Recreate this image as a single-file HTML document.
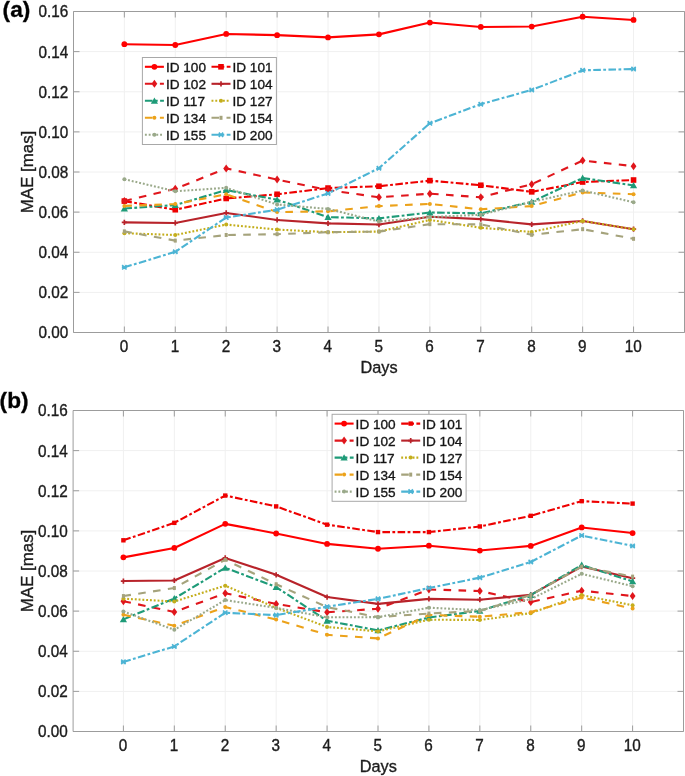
<!DOCTYPE html>
<html><head><meta charset="utf-8"><title>MAE</title>
<style>
html,body{margin:0;padding:0;background:#fff;}
body{width:685px;height:776px;overflow:hidden;}
svg{display:block;will-change:transform;}
text{font-family:'Liberation Sans', sans-serif;fill:#1c1c1c;stroke:#1c1c1c;stroke-width:0.35px;}
.tk{font-size:15.3px;}
.lb{font-size:16.3px;}
.lg{font-size:13.6px;fill:#111;}
.pl{font-size:22px;font-weight:bold;fill:#000;}
</style></head>
<body>
<svg width="685" height="776" viewBox="0 0 685 776">
<rect width="685" height="776" fill="#fff"/>
<path d="M124.35 11.50V332.50M175.27 11.50V332.50M226.19 11.50V332.50M277.11 11.50V332.50M328.03 11.50V332.50M378.95 11.50V332.50M429.87 11.50V332.50M480.79 11.50V332.50M531.71 11.50V332.50M582.63 11.50V332.50M633.55 11.50V332.50M73.50 292.38H684.50M73.50 252.25H684.50M73.50 212.12H684.50M73.50 172.00H684.50M73.50 131.88H684.50M73.50 91.75H684.50M73.50 51.62H684.50" stroke="#f0f0f0" stroke-width="1" fill="none"/>
<path d="M73.50 11.50H684.50V332.50H73.50ZM124.35 332.50v-6M124.35 11.50v6M175.27 332.50v-6M175.27 11.50v6M226.19 332.50v-6M226.19 11.50v6M277.11 332.50v-6M277.11 11.50v6M328.03 332.50v-6M328.03 11.50v6M378.95 332.50v-6M378.95 11.50v6M429.87 332.50v-6M429.87 11.50v6M480.79 332.50v-6M480.79 11.50v6M531.71 332.50v-6M531.71 11.50v6M582.63 332.50v-6M582.63 11.50v6M633.55 332.50v-6M633.55 11.50v6M73.50 332.50h6M684.50 332.50h-6M73.50 292.38h6M684.50 292.38h-6M73.50 252.25h6M684.50 252.25h-6M73.50 212.12h6M684.50 212.12h-6M73.50 172.00h6M684.50 172.00h-6M73.50 131.88h6M684.50 131.88h-6M73.50 91.75h6M684.50 91.75h-6M73.50 51.62h6M684.50 51.62h-6M73.50 11.50h6M684.50 11.50h-6" stroke="#9c9c9c" stroke-width="1" fill="none"/>
<polyline points="124.35,44.20 175.27,45.00 226.19,33.97 277.11,35.17 328.03,37.38 378.95,34.37 429.87,22.53 480.79,26.95 531.71,26.55 582.63,16.72 633.55,19.93" stroke="#ff0000" stroke-width="2.1" fill="none" stroke-linejoin="round"/>
<circle cx="124.35" cy="44.20" r="2.9" fill="#ff0000"/>
<circle cx="175.27" cy="45.00" r="2.9" fill="#ff0000"/>
<circle cx="226.19" cy="33.97" r="2.9" fill="#ff0000"/>
<circle cx="277.11" cy="35.17" r="2.9" fill="#ff0000"/>
<circle cx="328.03" cy="37.38" r="2.9" fill="#ff0000"/>
<circle cx="378.95" cy="34.37" r="2.9" fill="#ff0000"/>
<circle cx="429.87" cy="22.53" r="2.9" fill="#ff0000"/>
<circle cx="480.79" cy="26.95" r="2.9" fill="#ff0000"/>
<circle cx="531.71" cy="26.55" r="2.9" fill="#ff0000"/>
<circle cx="582.63" cy="16.72" r="2.9" fill="#ff0000"/>
<circle cx="633.55" cy="19.93" r="2.9" fill="#ff0000"/>
<polyline points="124.35,201.09 175.27,209.72 226.19,198.48 277.11,194.27 328.03,188.05 378.95,186.24 429.87,180.63 480.79,185.24 531.71,191.86 582.63,182.03 633.55,180.03" stroke="#ee0000" stroke-width="2.1" fill="none" stroke-linejoin="round" stroke-dasharray="7.6 2.4 2.8 2.4"/>
<rect x="121.55" y="198.29" width="5.60" height="5.60" fill="#ee0000"/>
<rect x="172.47" y="206.92" width="5.60" height="5.60" fill="#ee0000"/>
<rect x="223.39" y="195.68" width="5.60" height="5.60" fill="#ee0000"/>
<rect x="274.31" y="191.47" width="5.60" height="5.60" fill="#ee0000"/>
<rect x="325.23" y="185.25" width="5.60" height="5.60" fill="#ee0000"/>
<rect x="376.15" y="183.44" width="5.60" height="5.60" fill="#ee0000"/>
<rect x="427.07" y="177.83" width="5.60" height="5.60" fill="#ee0000"/>
<rect x="477.99" y="182.44" width="5.60" height="5.60" fill="#ee0000"/>
<rect x="528.91" y="189.06" width="5.60" height="5.60" fill="#ee0000"/>
<rect x="579.83" y="179.23" width="5.60" height="5.60" fill="#ee0000"/>
<rect x="630.75" y="177.22" width="5.60" height="5.60" fill="#ee0000"/>
<polyline points="124.35,201.09 175.27,188.85 226.19,168.39 277.11,179.62 328.03,190.06 378.95,197.28 429.87,193.67 480.79,197.28 531.71,184.24 582.63,160.56 633.55,166.18" stroke="#e0161c" stroke-width="2.1" fill="none" stroke-linejoin="round" stroke-dasharray="7.6 7.4"/>
<path d="M124.35 197.09L127.25 201.09L124.35 205.09L121.45 201.09Z" fill="#e0161c"/>
<path d="M175.27 184.85L178.17 188.85L175.27 192.85L172.37 188.85Z" fill="#e0161c"/>
<path d="M226.19 164.39L229.09 168.39L226.19 172.39L223.29 168.39Z" fill="#e0161c"/>
<path d="M277.11 175.62L280.01 179.62L277.11 183.62L274.21 179.62Z" fill="#e0161c"/>
<path d="M328.03 186.06L330.93 190.06L328.03 194.06L325.13 190.06Z" fill="#e0161c"/>
<path d="M378.95 193.28L381.85 197.28L378.95 201.28L376.05 197.28Z" fill="#e0161c"/>
<path d="M429.87 189.67L432.77 193.67L429.87 197.67L426.97 193.67Z" fill="#e0161c"/>
<path d="M480.79 193.28L483.69 197.28L480.79 201.28L477.89 197.28Z" fill="#e0161c"/>
<path d="M531.71 180.24L534.61 184.24L531.71 188.24L528.81 184.24Z" fill="#e0161c"/>
<path d="M582.63 156.56L585.53 160.56L582.63 164.56L579.73 160.56Z" fill="#e0161c"/>
<path d="M633.55 162.18L636.45 166.18L633.55 170.18L630.65 166.18Z" fill="#e0161c"/>
<polyline points="124.35,222.36 175.27,222.96 226.19,212.93 277.11,219.95 328.03,223.36 378.95,224.56 429.87,216.74 480.79,219.15 531.71,224.36 582.63,220.95 633.55,229.18" stroke="#b8232a" stroke-width="2.1" fill="none" stroke-linejoin="round"/>
<path d="M121.75 222.36H126.95M124.35 219.76V224.96" stroke="#b8232a" stroke-width="1.7" fill="none"/>
<path d="M172.67 222.96H177.87M175.27 220.36V225.56" stroke="#b8232a" stroke-width="1.7" fill="none"/>
<path d="M223.59 212.93H228.79M226.19 210.33V215.53" stroke="#b8232a" stroke-width="1.7" fill="none"/>
<path d="M274.51 219.95H279.71M277.11 217.35V222.55" stroke="#b8232a" stroke-width="1.7" fill="none"/>
<path d="M325.43 223.36H330.63M328.03 220.76V225.96" stroke="#b8232a" stroke-width="1.7" fill="none"/>
<path d="M376.35 224.56H381.55M378.95 221.96V227.16" stroke="#b8232a" stroke-width="1.7" fill="none"/>
<path d="M427.27 216.74H432.47M429.87 214.14V219.34" stroke="#b8232a" stroke-width="1.7" fill="none"/>
<path d="M478.19 219.15H483.39M480.79 216.55V221.75" stroke="#b8232a" stroke-width="1.7" fill="none"/>
<path d="M529.11 224.36H534.31M531.71 221.76V226.96" stroke="#b8232a" stroke-width="1.7" fill="none"/>
<path d="M580.03 220.95H585.23M582.63 218.35V223.55" stroke="#b8232a" stroke-width="1.7" fill="none"/>
<path d="M630.95 229.18H636.15M633.55 226.58V231.78" stroke="#b8232a" stroke-width="1.7" fill="none"/>
<polyline points="124.35,208.51 175.27,205.10 226.19,190.06 277.11,199.69 328.03,217.14 378.95,218.34 429.87,212.53 480.79,213.33 531.71,201.89 582.63,178.02 633.55,185.44" stroke="#1e9b78" stroke-width="2.1" fill="none" stroke-linejoin="round" stroke-dasharray="7.6 2.4 2.8 2.4"/>
<path d="M124.35 205.11L127.95 211.40L120.75 211.40Z" fill="#1e9b78"/>
<path d="M175.27 201.70L178.87 207.99L171.67 207.99Z" fill="#1e9b78"/>
<path d="M226.19 186.66L229.79 192.95L222.59 192.95Z" fill="#1e9b78"/>
<path d="M277.11 196.29L280.71 202.58L273.51 202.58Z" fill="#1e9b78"/>
<path d="M328.03 213.74L331.63 220.03L324.43 220.03Z" fill="#1e9b78"/>
<path d="M378.95 214.94L382.55 221.23L375.35 221.23Z" fill="#1e9b78"/>
<path d="M429.87 209.13L433.47 215.42L426.27 215.42Z" fill="#1e9b78"/>
<path d="M480.79 209.93L484.39 216.22L477.19 216.22Z" fill="#1e9b78"/>
<path d="M531.71 198.49L535.31 204.78L528.11 204.78Z" fill="#1e9b78"/>
<path d="M582.63 174.62L586.23 180.91L579.03 180.91Z" fill="#1e9b78"/>
<path d="M633.55 182.04L637.15 188.33L629.95 188.33Z" fill="#1e9b78"/>
<polyline points="124.35,233.19 175.27,235.00 226.19,224.56 277.11,229.58 328.03,232.19 378.95,231.59 429.87,219.95 480.79,227.77 531.71,231.99 582.63,220.95 633.55,229.18" stroke="#c4ae1c" stroke-width="2.1" fill="none" stroke-linejoin="round" stroke-dasharray="1.9 1.9"/>
<circle cx="124.35" cy="233.19" r="2.0" fill="#c4ae1c"/>
<circle cx="175.27" cy="235.00" r="2.0" fill="#c4ae1c"/>
<circle cx="226.19" cy="224.56" r="2.0" fill="#c4ae1c"/>
<circle cx="277.11" cy="229.58" r="2.0" fill="#c4ae1c"/>
<circle cx="328.03" cy="232.19" r="2.0" fill="#c4ae1c"/>
<circle cx="378.95" cy="231.59" r="2.0" fill="#c4ae1c"/>
<circle cx="429.87" cy="219.95" r="2.0" fill="#c4ae1c"/>
<circle cx="480.79" cy="227.77" r="2.0" fill="#c4ae1c"/>
<circle cx="531.71" cy="231.99" r="2.0" fill="#c4ae1c"/>
<circle cx="582.63" cy="220.95" r="2.0" fill="#c4ae1c"/>
<circle cx="633.55" cy="229.18" r="2.0" fill="#c4ae1c"/>
<polyline points="124.35,205.91 175.27,204.10 226.19,194.27 277.11,212.12 328.03,211.32 378.95,206.11 429.87,203.90 480.79,209.32 531.71,206.11 582.63,192.46 633.55,194.27" stroke="#eca21a" stroke-width="2.1" fill="none" stroke-linejoin="round" stroke-dasharray="7.6 7.4"/>
<circle cx="124.35" cy="205.91" r="2.0" fill="#eca21a"/>
<circle cx="175.27" cy="204.10" r="2.0" fill="#eca21a"/>
<circle cx="226.19" cy="194.27" r="2.0" fill="#eca21a"/>
<circle cx="277.11" cy="212.12" r="2.0" fill="#eca21a"/>
<circle cx="328.03" cy="211.32" r="2.0" fill="#eca21a"/>
<circle cx="378.95" cy="206.11" r="2.0" fill="#eca21a"/>
<circle cx="429.87" cy="203.90" r="2.0" fill="#eca21a"/>
<circle cx="480.79" cy="209.32" r="2.0" fill="#eca21a"/>
<circle cx="531.71" cy="206.11" r="2.0" fill="#eca21a"/>
<circle cx="582.63" cy="192.46" r="2.0" fill="#eca21a"/>
<circle cx="633.55" cy="194.27" r="2.0" fill="#eca21a"/>
<polyline points="124.35,231.38 175.27,240.61 226.19,235.00 277.11,234.19 328.03,232.19 378.95,231.59 429.87,224.16 480.79,224.36 531.71,234.80 582.63,229.18 633.55,238.81" stroke="#a5a37c" stroke-width="2.1" fill="none" stroke-linejoin="round" stroke-dasharray="7.6 7.4"/>
<rect x="122.85" y="229.38" width="3.0" height="4.0" fill="#a5a37c"/>
<rect x="173.77" y="238.61" width="3.0" height="4.0" fill="#a5a37c"/>
<rect x="224.69" y="233.00" width="3.0" height="4.0" fill="#a5a37c"/>
<rect x="275.61" y="232.19" width="3.0" height="4.0" fill="#a5a37c"/>
<rect x="326.53" y="230.19" width="3.0" height="4.0" fill="#a5a37c"/>
<rect x="377.45" y="229.59" width="3.0" height="4.0" fill="#a5a37c"/>
<rect x="428.37" y="222.16" width="3.0" height="4.0" fill="#a5a37c"/>
<rect x="479.29" y="222.36" width="3.0" height="4.0" fill="#a5a37c"/>
<rect x="530.21" y="232.80" width="3.0" height="4.0" fill="#a5a37c"/>
<rect x="581.13" y="227.18" width="3.0" height="4.0" fill="#a5a37c"/>
<rect x="632.05" y="236.81" width="3.0" height="4.0" fill="#a5a37c"/>
<polyline points="124.35,179.22 175.27,191.26 226.19,187.85 277.11,204.50 328.03,208.91 378.95,221.55 429.87,217.14 480.79,214.73 531.71,201.89 582.63,190.46 633.55,202.29" stroke="#9aa98a" stroke-width="2.1" fill="none" stroke-linejoin="round" stroke-dasharray="1.9 1.9"/>
<circle cx="124.35" cy="179.22" r="2.0" fill="#9aa98a"/>
<circle cx="175.27" cy="191.26" r="2.0" fill="#9aa98a"/>
<circle cx="226.19" cy="187.85" r="2.0" fill="#9aa98a"/>
<circle cx="277.11" cy="204.50" r="2.0" fill="#9aa98a"/>
<circle cx="328.03" cy="208.91" r="2.0" fill="#9aa98a"/>
<circle cx="378.95" cy="221.55" r="2.0" fill="#9aa98a"/>
<circle cx="429.87" cy="217.14" r="2.0" fill="#9aa98a"/>
<circle cx="480.79" cy="214.73" r="2.0" fill="#9aa98a"/>
<circle cx="531.71" cy="201.89" r="2.0" fill="#9aa98a"/>
<circle cx="582.63" cy="190.46" r="2.0" fill="#9aa98a"/>
<circle cx="633.55" cy="202.29" r="2.0" fill="#9aa98a"/>
<polyline points="124.35,267.30 175.27,251.85 226.19,217.54 277.11,209.72 328.03,193.47 378.95,168.19 429.87,123.25 480.79,104.19 531.71,89.94 582.63,70.28 633.55,69.08" stroke="#4cb4d4" stroke-width="2.1" fill="none" stroke-linejoin="round" stroke-dasharray="7.6 2.4 2.8 2.4"/>
<path d="M122.15 265.10L126.55 269.50M122.15 269.50L126.55 265.10M121.85 267.30H126.85" stroke="#4cb4d4" stroke-width="1.6" fill="none"/>
<path d="M173.07 249.65L177.47 254.05M173.07 254.05L177.47 249.65M172.77 251.85H177.77" stroke="#4cb4d4" stroke-width="1.6" fill="none"/>
<path d="M223.99 215.34L228.39 219.74M223.99 219.74L228.39 215.34M223.69 217.54H228.69" stroke="#4cb4d4" stroke-width="1.6" fill="none"/>
<path d="M274.91 207.52L279.31 211.92M274.91 211.92L279.31 207.52M274.61 209.72H279.61" stroke="#4cb4d4" stroke-width="1.6" fill="none"/>
<path d="M325.83 191.27L330.23 195.67M325.83 195.67L330.23 191.27M325.53 193.47H330.53" stroke="#4cb4d4" stroke-width="1.6" fill="none"/>
<path d="M376.75 165.99L381.15 170.39M376.75 170.39L381.15 165.99M376.45 168.19H381.45" stroke="#4cb4d4" stroke-width="1.6" fill="none"/>
<path d="M427.67 121.05L432.07 125.45M427.67 125.45L432.07 121.05M427.37 123.25H432.37" stroke="#4cb4d4" stroke-width="1.6" fill="none"/>
<path d="M478.59 101.99L482.99 106.39M478.59 106.39L482.99 101.99M478.29 104.19H483.29" stroke="#4cb4d4" stroke-width="1.6" fill="none"/>
<path d="M529.51 87.74L533.91 92.14M529.51 92.14L533.91 87.74M529.21 89.94H534.21" stroke="#4cb4d4" stroke-width="1.6" fill="none"/>
<path d="M580.43 68.08L584.83 72.48M580.43 72.48L584.83 68.08M580.13 70.28H585.13" stroke="#4cb4d4" stroke-width="1.6" fill="none"/>
<path d="M631.35 66.88L635.75 71.28M631.35 71.28L635.75 66.88M631.05 69.08H636.05" stroke="#4cb4d4" stroke-width="1.6" fill="none"/>
<text transform="translate(124.05 351.90) scale(1 1.04)" text-anchor="middle" class="tk">0</text>
<text transform="translate(174.97 351.90) scale(1 1.04)" text-anchor="middle" class="tk">1</text>
<text transform="translate(225.89 351.90) scale(1 1.04)" text-anchor="middle" class="tk">2</text>
<text transform="translate(276.81 351.90) scale(1 1.04)" text-anchor="middle" class="tk">3</text>
<text transform="translate(327.73 351.90) scale(1 1.04)" text-anchor="middle" class="tk">4</text>
<text transform="translate(378.65 351.90) scale(1 1.04)" text-anchor="middle" class="tk">5</text>
<text transform="translate(429.57 351.90) scale(1 1.04)" text-anchor="middle" class="tk">6</text>
<text transform="translate(480.49 351.90) scale(1 1.04)" text-anchor="middle" class="tk">7</text>
<text transform="translate(531.41 351.90) scale(1 1.04)" text-anchor="middle" class="tk">8</text>
<text transform="translate(582.33 351.90) scale(1 1.04)" text-anchor="middle" class="tk">9</text>
<text transform="translate(633.25 351.90) scale(1 1.04)" text-anchor="middle" class="tk">10</text>
<text transform="translate(68.20 338.40) scale(1 1.04)" text-anchor="end" class="tk">0.00</text>
<text transform="translate(68.20 298.27) scale(1 1.04)" text-anchor="end" class="tk">0.02</text>
<text transform="translate(68.20 258.15) scale(1 1.04)" text-anchor="end" class="tk">0.04</text>
<text transform="translate(68.20 218.03) scale(1 1.04)" text-anchor="end" class="tk">0.06</text>
<text transform="translate(68.20 177.90) scale(1 1.04)" text-anchor="end" class="tk">0.08</text>
<text transform="translate(68.20 137.78) scale(1 1.04)" text-anchor="end" class="tk">0.10</text>
<text transform="translate(68.20 97.65) scale(1 1.04)" text-anchor="end" class="tk">0.12</text>
<text transform="translate(68.20 57.52) scale(1 1.04)" text-anchor="end" class="tk">0.14</text>
<text transform="translate(68.20 17.40) scale(1 1.04)" text-anchor="end" class="tk">0.16</text>
<text x="379.00" y="372.60" text-anchor="middle" class="lb">Days</text>
<text transform="translate(33.2 172.00) rotate(-90)" text-anchor="middle" class="lb" style="font-size:16.9px">MAE [mas]</text>
<text transform="translate(2.60 16.50) scale(1.03 1)" class="pl">(a)</text>
<rect x="142.40" y="57.50" width="134.00" height="87.00" fill="#fff" stroke="#a8a8a8" stroke-width="1"/>
<path d="M144.90 66.80H163.90" stroke="#ff0000" stroke-width="2.1" fill="none"/>
<circle cx="154.40" cy="66.80" r="2.9" fill="#ff0000"/>
<text transform="translate(165.90 71.90) scale(1 1.0)" class="lg">ID 100</text>
<path d="M211.50 66.80H230.50" stroke="#ee0000" stroke-width="2.1" fill="none" stroke-dasharray="7.6 2.4 2.8 2.4"/>
<rect x="218.20" y="64.00" width="5.60" height="5.60" fill="#ee0000"/>
<text transform="translate(232.50 71.90) scale(1 1.0)" class="lg">ID 101</text>
<path d="M144.90 83.80H163.90" stroke="#e0161c" stroke-width="2.1" fill="none" stroke-dasharray="7.6 7.4"/>
<path d="M154.40 79.80L157.30 83.80L154.40 87.80L151.50 83.80Z" fill="#e0161c"/>
<text transform="translate(165.90 88.90) scale(1 1.0)" class="lg">ID 102</text>
<path d="M211.50 83.80H230.50" stroke="#b8232a" stroke-width="2.1" fill="none"/>
<path d="M218.40 83.80H223.60M221.00 81.20V86.40" stroke="#b8232a" stroke-width="1.7" fill="none"/>
<text transform="translate(232.50 88.90) scale(1 1.0)" class="lg">ID 104</text>
<path d="M144.90 100.80H163.90" stroke="#1e9b78" stroke-width="2.1" fill="none" stroke-dasharray="7.6 2.4 2.8 2.4"/>
<path d="M154.40 97.40L158.00 103.69L150.80 103.69Z" fill="#1e9b78"/>
<text transform="translate(165.90 105.90) scale(1 1.0)" class="lg">ID 117</text>
<path d="M211.50 100.80H230.50" stroke="#c4ae1c" stroke-width="2.1" fill="none" stroke-dasharray="1.9 1.9"/>
<circle cx="221.00" cy="100.80" r="2.0" fill="#c4ae1c"/>
<text transform="translate(232.50 105.90) scale(1 1.0)" class="lg">ID 127</text>
<path d="M144.90 117.80H163.90" stroke="#eca21a" stroke-width="2.1" fill="none" stroke-dasharray="7.6 7.4"/>
<circle cx="154.40" cy="117.80" r="2.0" fill="#eca21a"/>
<text transform="translate(165.90 122.90) scale(1 1.0)" class="lg">ID 134</text>
<path d="M211.50 117.80H230.50" stroke="#a5a37c" stroke-width="2.1" fill="none" stroke-dasharray="7.6 7.4"/>
<rect x="219.50" y="115.80" width="3.0" height="4.0" fill="#a5a37c"/>
<text transform="translate(232.50 122.90) scale(1 1.0)" class="lg">ID 154</text>
<path d="M144.90 134.80H163.90" stroke="#9aa98a" stroke-width="2.1" fill="none" stroke-dasharray="1.9 1.9"/>
<circle cx="154.40" cy="134.80" r="2.0" fill="#9aa98a"/>
<text transform="translate(165.90 139.90) scale(1 1.0)" class="lg">ID 155</text>
<path d="M211.50 134.80H230.50" stroke="#4cb4d4" stroke-width="2.1" fill="none" stroke-dasharray="7.6 2.4 2.8 2.4"/>
<path d="M218.80 132.60L223.20 137.00M218.80 137.00L223.20 132.60M218.50 134.80H223.50" stroke="#4cb4d4" stroke-width="1.6" fill="none"/>
<text transform="translate(232.50 139.90) scale(1 1.0)" class="lg">ID 200</text>
<path d="M123.40 410.50V731.50M174.32 410.50V731.50M225.24 410.50V731.50M276.16 410.50V731.50M327.08 410.50V731.50M378.00 410.50V731.50M428.92 410.50V731.50M479.84 410.50V731.50M530.76 410.50V731.50M581.68 410.50V731.50M632.60 410.50V731.50M73.10 691.38H683.50M73.10 651.25H683.50M73.10 611.12H683.50M73.10 571.00H683.50M73.10 530.88H683.50M73.10 490.75H683.50M73.10 450.62H683.50" stroke="#f0f0f0" stroke-width="1" fill="none"/>
<path d="M73.10 410.50H683.50V731.50H73.10ZM123.40 731.50v-6M123.40 410.50v6M174.32 731.50v-6M174.32 410.50v6M225.24 731.50v-6M225.24 410.50v6M276.16 731.50v-6M276.16 410.50v6M327.08 731.50v-6M327.08 410.50v6M378.00 731.50v-6M378.00 410.50v6M428.92 731.50v-6M428.92 410.50v6M479.84 731.50v-6M479.84 410.50v6M530.76 731.50v-6M530.76 410.50v6M581.68 731.50v-6M581.68 410.50v6M632.60 731.50v-6M632.60 410.50v6M73.10 731.50h6M683.50 731.50h-6M73.10 691.38h6M683.50 691.38h-6M73.10 651.25h6M683.50 651.25h-6M73.10 611.12h6M683.50 611.12h-6M73.10 571.00h6M683.50 571.00h-6M73.10 530.88h6M683.50 530.88h-6M73.10 490.75h6M683.50 490.75h-6M73.10 450.62h6M683.50 450.62h-6M73.10 410.50h6M683.50 410.50h-6" stroke="#9c9c9c" stroke-width="1" fill="none"/>
<polyline points="123.40,557.36 174.32,547.93 225.24,523.85 276.16,533.48 327.08,543.92 378.00,548.73 428.92,545.72 479.84,550.54 530.76,545.92 581.68,527.46 632.60,533.08" stroke="#ff0000" stroke-width="2.1" fill="none" stroke-linejoin="round"/>
<circle cx="123.40" cy="557.36" r="2.9" fill="#ff0000"/>
<circle cx="174.32" cy="547.93" r="2.9" fill="#ff0000"/>
<circle cx="225.24" cy="523.85" r="2.9" fill="#ff0000"/>
<circle cx="276.16" cy="533.48" r="2.9" fill="#ff0000"/>
<circle cx="327.08" cy="543.92" r="2.9" fill="#ff0000"/>
<circle cx="378.00" cy="548.73" r="2.9" fill="#ff0000"/>
<circle cx="428.92" cy="545.72" r="2.9" fill="#ff0000"/>
<circle cx="479.84" cy="550.54" r="2.9" fill="#ff0000"/>
<circle cx="530.76" cy="545.92" r="2.9" fill="#ff0000"/>
<circle cx="581.68" cy="527.46" r="2.9" fill="#ff0000"/>
<circle cx="632.60" cy="533.08" r="2.9" fill="#ff0000"/>
<polyline points="123.40,540.30 174.32,522.85 225.24,495.56 276.16,506.40 327.08,524.66 378.00,532.08 428.92,532.08 479.84,526.46 530.76,515.83 581.68,501.18 632.60,503.59" stroke="#ee0000" stroke-width="2.1" fill="none" stroke-linejoin="round" stroke-dasharray="7.6 2.4 2.8 2.4"/>
<rect x="121.20" y="538.10" width="4.40" height="4.40" fill="#ee0000"/>
<rect x="172.12" y="520.65" width="4.40" height="4.40" fill="#ee0000"/>
<rect x="223.04" y="493.37" width="4.40" height="4.40" fill="#ee0000"/>
<rect x="273.96" y="504.20" width="4.40" height="4.40" fill="#ee0000"/>
<rect x="324.88" y="522.46" width="4.40" height="4.40" fill="#ee0000"/>
<rect x="375.80" y="529.88" width="4.40" height="4.40" fill="#ee0000"/>
<rect x="426.72" y="529.88" width="4.40" height="4.40" fill="#ee0000"/>
<rect x="477.64" y="524.26" width="4.40" height="4.40" fill="#ee0000"/>
<rect x="528.56" y="513.63" width="4.40" height="4.40" fill="#ee0000"/>
<rect x="579.48" y="498.98" width="4.40" height="4.40" fill="#ee0000"/>
<rect x="630.40" y="501.39" width="4.40" height="4.40" fill="#ee0000"/>
<polyline points="123.40,601.29 174.32,611.93 225.24,593.27 276.16,603.90 327.08,612.33 378.00,608.72 428.92,589.46 479.84,591.06 530.76,602.10 581.68,590.66 632.60,596.08" stroke="#e0161c" stroke-width="2.1" fill="none" stroke-linejoin="round" stroke-dasharray="7.6 7.4"/>
<path d="M123.40 597.29L126.30 601.29L123.40 605.29L120.50 601.29Z" fill="#e0161c"/>
<path d="M174.32 607.93L177.22 611.93L174.32 615.93L171.42 611.93Z" fill="#e0161c"/>
<path d="M225.24 589.27L228.14 593.27L225.24 597.27L222.34 593.27Z" fill="#e0161c"/>
<path d="M276.16 599.90L279.06 603.90L276.16 607.90L273.26 603.90Z" fill="#e0161c"/>
<path d="M327.08 608.33L329.98 612.33L327.08 616.33L324.18 612.33Z" fill="#e0161c"/>
<path d="M378.00 604.72L380.90 608.72L378.00 612.72L375.10 608.72Z" fill="#e0161c"/>
<path d="M428.92 585.46L431.82 589.46L428.92 593.46L426.02 589.46Z" fill="#e0161c"/>
<path d="M479.84 587.06L482.74 591.06L479.84 595.06L476.94 591.06Z" fill="#e0161c"/>
<path d="M530.76 598.10L533.66 602.10L530.76 606.10L527.86 602.10Z" fill="#e0161c"/>
<path d="M581.68 586.66L584.58 590.66L581.68 594.66L578.78 590.66Z" fill="#e0161c"/>
<path d="M632.60 592.08L635.50 596.08L632.60 600.08L629.70 596.08Z" fill="#e0161c"/>
<polyline points="123.40,581.03 174.32,580.43 225.24,557.96 276.16,574.81 327.08,597.08 378.00,603.90 428.92,598.89 479.84,599.69 530.76,594.87 581.68,566.59 632.60,578.22" stroke="#b8232a" stroke-width="2.1" fill="none" stroke-linejoin="round"/>
<path d="M120.80 581.03H126.00M123.40 578.43V583.63" stroke="#b8232a" stroke-width="1.7" fill="none"/>
<path d="M171.72 580.43H176.92M174.32 577.83V583.03" stroke="#b8232a" stroke-width="1.7" fill="none"/>
<path d="M222.64 557.96H227.84M225.24 555.36V560.56" stroke="#b8232a" stroke-width="1.7" fill="none"/>
<path d="M273.56 574.81H278.76M276.16 572.21V577.41" stroke="#b8232a" stroke-width="1.7" fill="none"/>
<path d="M324.48 597.08H329.68M327.08 594.48V599.68" stroke="#b8232a" stroke-width="1.7" fill="none"/>
<path d="M375.40 603.90H380.60M378.00 601.30V606.50" stroke="#b8232a" stroke-width="1.7" fill="none"/>
<path d="M426.32 598.89H431.52M428.92 596.29V601.49" stroke="#b8232a" stroke-width="1.7" fill="none"/>
<path d="M477.24 599.69H482.44M479.84 597.09V602.29" stroke="#b8232a" stroke-width="1.7" fill="none"/>
<path d="M528.16 594.87H533.36M530.76 592.27V597.47" stroke="#b8232a" stroke-width="1.7" fill="none"/>
<path d="M579.08 566.59H584.28M581.68 563.99V569.19" stroke="#b8232a" stroke-width="1.7" fill="none"/>
<path d="M630.00 578.22H635.20M632.60 575.62V580.82" stroke="#b8232a" stroke-width="1.7" fill="none"/>
<polyline points="123.40,619.35 174.32,598.49 225.24,567.79 276.16,587.05 327.08,620.75 378.00,630.38 428.92,617.54 479.84,610.92 530.76,595.08 581.68,564.98 632.60,581.43" stroke="#1e9b78" stroke-width="2.1" fill="none" stroke-linejoin="round" stroke-dasharray="7.6 2.4 2.8 2.4"/>
<path d="M123.40 615.95L127.00 622.24L119.80 622.24Z" fill="#1e9b78"/>
<path d="M174.32 595.09L177.92 601.38L170.72 601.38Z" fill="#1e9b78"/>
<path d="M225.24 564.39L228.84 570.68L221.64 570.68Z" fill="#1e9b78"/>
<path d="M276.16 583.65L279.76 589.94L272.56 589.94Z" fill="#1e9b78"/>
<path d="M327.08 617.36L330.68 623.64L323.48 623.64Z" fill="#1e9b78"/>
<path d="M378.00 626.99L381.60 633.27L374.40 633.27Z" fill="#1e9b78"/>
<path d="M428.92 614.14L432.52 620.43L425.32 620.43Z" fill="#1e9b78"/>
<path d="M479.84 607.52L483.44 613.81L476.24 613.81Z" fill="#1e9b78"/>
<path d="M530.76 591.68L534.36 597.97L527.16 597.97Z" fill="#1e9b78"/>
<path d="M581.68 561.58L585.28 567.87L578.08 567.87Z" fill="#1e9b78"/>
<path d="M632.60 578.03L636.20 584.32L629.00 584.32Z" fill="#1e9b78"/>
<polyline points="123.40,598.69 174.32,601.50 225.24,585.65 276.16,607.91 327.08,626.97 378.00,631.39 428.92,619.75 479.84,619.95 530.76,613.13 581.68,595.08 632.60,605.31" stroke="#c4ae1c" stroke-width="2.1" fill="none" stroke-linejoin="round" stroke-dasharray="1.9 1.9"/>
<circle cx="123.40" cy="598.69" r="2.0" fill="#c4ae1c"/>
<circle cx="174.32" cy="601.50" r="2.0" fill="#c4ae1c"/>
<circle cx="225.24" cy="585.65" r="2.0" fill="#c4ae1c"/>
<circle cx="276.16" cy="607.91" r="2.0" fill="#c4ae1c"/>
<circle cx="327.08" cy="626.97" r="2.0" fill="#c4ae1c"/>
<circle cx="378.00" cy="631.39" r="2.0" fill="#c4ae1c"/>
<circle cx="428.92" cy="619.75" r="2.0" fill="#c4ae1c"/>
<circle cx="479.84" cy="619.95" r="2.0" fill="#c4ae1c"/>
<circle cx="530.76" cy="613.13" r="2.0" fill="#c4ae1c"/>
<circle cx="581.68" cy="595.08" r="2.0" fill="#c4ae1c"/>
<circle cx="632.60" cy="605.31" r="2.0" fill="#c4ae1c"/>
<polyline points="123.40,614.74 174.32,625.77 225.24,606.91 276.16,619.55 327.08,634.80 378.00,638.41 428.92,614.94 479.84,616.74 530.76,612.13 581.68,597.48 632.60,608.52" stroke="#eca21a" stroke-width="2.1" fill="none" stroke-linejoin="round" stroke-dasharray="7.6 7.4"/>
<circle cx="123.40" cy="614.74" r="2.0" fill="#eca21a"/>
<circle cx="174.32" cy="625.77" r="2.0" fill="#eca21a"/>
<circle cx="225.24" cy="606.91" r="2.0" fill="#eca21a"/>
<circle cx="276.16" cy="619.55" r="2.0" fill="#eca21a"/>
<circle cx="327.08" cy="634.80" r="2.0" fill="#eca21a"/>
<circle cx="378.00" cy="638.41" r="2.0" fill="#eca21a"/>
<circle cx="428.92" cy="614.94" r="2.0" fill="#eca21a"/>
<circle cx="479.84" cy="616.74" r="2.0" fill="#eca21a"/>
<circle cx="530.76" cy="612.13" r="2.0" fill="#eca21a"/>
<circle cx="581.68" cy="597.48" r="2.0" fill="#eca21a"/>
<circle cx="632.60" cy="608.52" r="2.0" fill="#eca21a"/>
<polyline points="123.40,596.08 174.32,588.05 225.24,559.76 276.16,584.24 327.08,607.11 378.00,617.14 428.92,613.53 479.84,610.92 530.76,595.08 581.68,566.59 632.60,576.62" stroke="#a5a37c" stroke-width="2.1" fill="none" stroke-linejoin="round" stroke-dasharray="7.6 7.4"/>
<rect x="121.90" y="594.08" width="3.0" height="4.0" fill="#a5a37c"/>
<rect x="172.82" y="586.05" width="3.0" height="4.0" fill="#a5a37c"/>
<rect x="223.74" y="557.76" width="3.0" height="4.0" fill="#a5a37c"/>
<rect x="274.66" y="582.24" width="3.0" height="4.0" fill="#a5a37c"/>
<rect x="325.58" y="605.11" width="3.0" height="4.0" fill="#a5a37c"/>
<rect x="376.50" y="615.14" width="3.0" height="4.0" fill="#a5a37c"/>
<rect x="427.42" y="611.53" width="3.0" height="4.0" fill="#a5a37c"/>
<rect x="478.34" y="608.92" width="3.0" height="4.0" fill="#a5a37c"/>
<rect x="529.26" y="593.08" width="3.0" height="4.0" fill="#a5a37c"/>
<rect x="580.18" y="564.59" width="3.0" height="4.0" fill="#a5a37c"/>
<rect x="631.10" y="574.62" width="3.0" height="4.0" fill="#a5a37c"/>
<polyline points="123.40,611.53 174.32,629.78 225.24,600.09 276.16,607.91 327.08,617.34 378.00,617.14 428.92,607.71 479.84,610.12 530.76,599.09 581.68,573.81 632.60,586.25" stroke="#9aa98a" stroke-width="2.1" fill="none" stroke-linejoin="round" stroke-dasharray="1.9 1.9"/>
<circle cx="123.40" cy="611.53" r="2.0" fill="#9aa98a"/>
<circle cx="174.32" cy="629.78" r="2.0" fill="#9aa98a"/>
<circle cx="225.24" cy="600.09" r="2.0" fill="#9aa98a"/>
<circle cx="276.16" cy="607.91" r="2.0" fill="#9aa98a"/>
<circle cx="327.08" cy="617.34" r="2.0" fill="#9aa98a"/>
<circle cx="378.00" cy="617.14" r="2.0" fill="#9aa98a"/>
<circle cx="428.92" cy="607.71" r="2.0" fill="#9aa98a"/>
<circle cx="479.84" cy="610.12" r="2.0" fill="#9aa98a"/>
<circle cx="530.76" cy="599.09" r="2.0" fill="#9aa98a"/>
<circle cx="581.68" cy="573.81" r="2.0" fill="#9aa98a"/>
<circle cx="632.60" cy="586.25" r="2.0" fill="#9aa98a"/>
<polyline points="123.40,661.88 174.32,646.43 225.24,612.73 276.16,615.14 327.08,606.71 378.00,598.89 428.92,588.05 479.84,577.62 530.76,561.97 581.68,535.49 632.60,545.92" stroke="#4cb4d4" stroke-width="2.1" fill="none" stroke-linejoin="round" stroke-dasharray="7.6 2.4 2.8 2.4"/>
<path d="M121.20 659.68L125.60 664.08M121.20 664.08L125.60 659.68M120.90 661.88H125.90" stroke="#4cb4d4" stroke-width="1.6" fill="none"/>
<path d="M172.12 644.23L176.52 648.63M172.12 648.63L176.52 644.23M171.82 646.43H176.82" stroke="#4cb4d4" stroke-width="1.6" fill="none"/>
<path d="M223.04 610.53L227.44 614.93M223.04 614.93L227.44 610.53M222.74 612.73H227.74" stroke="#4cb4d4" stroke-width="1.6" fill="none"/>
<path d="M273.96 612.94L278.36 617.34M273.96 617.34L278.36 612.94M273.66 615.14H278.66" stroke="#4cb4d4" stroke-width="1.6" fill="none"/>
<path d="M324.88 604.51L329.28 608.91M324.88 608.91L329.28 604.51M324.58 606.71H329.58" stroke="#4cb4d4" stroke-width="1.6" fill="none"/>
<path d="M375.80 596.69L380.20 601.09M375.80 601.09L380.20 596.69M375.50 598.89H380.50" stroke="#4cb4d4" stroke-width="1.6" fill="none"/>
<path d="M426.72 585.85L431.12 590.25M426.72 590.25L431.12 585.85M426.42 588.05H431.42" stroke="#4cb4d4" stroke-width="1.6" fill="none"/>
<path d="M477.64 575.42L482.04 579.82M477.64 579.82L482.04 575.42M477.34 577.62H482.34" stroke="#4cb4d4" stroke-width="1.6" fill="none"/>
<path d="M528.56 559.77L532.96 564.17M528.56 564.17L532.96 559.77M528.26 561.97H533.26" stroke="#4cb4d4" stroke-width="1.6" fill="none"/>
<path d="M579.48 533.29L583.88 537.69M579.48 537.69L583.88 533.29M579.18 535.49H584.18" stroke="#4cb4d4" stroke-width="1.6" fill="none"/>
<path d="M630.40 543.72L634.80 548.12M630.40 548.12L634.80 543.72M630.10 545.92H635.10" stroke="#4cb4d4" stroke-width="1.6" fill="none"/>
<text transform="translate(123.10 750.90) scale(1 1.04)" text-anchor="middle" class="tk">0</text>
<text transform="translate(174.02 750.90) scale(1 1.04)" text-anchor="middle" class="tk">1</text>
<text transform="translate(224.94 750.90) scale(1 1.04)" text-anchor="middle" class="tk">2</text>
<text transform="translate(275.86 750.90) scale(1 1.04)" text-anchor="middle" class="tk">3</text>
<text transform="translate(326.78 750.90) scale(1 1.04)" text-anchor="middle" class="tk">4</text>
<text transform="translate(377.70 750.90) scale(1 1.04)" text-anchor="middle" class="tk">5</text>
<text transform="translate(428.62 750.90) scale(1 1.04)" text-anchor="middle" class="tk">6</text>
<text transform="translate(479.54 750.90) scale(1 1.04)" text-anchor="middle" class="tk">7</text>
<text transform="translate(530.46 750.90) scale(1 1.04)" text-anchor="middle" class="tk">8</text>
<text transform="translate(581.38 750.90) scale(1 1.04)" text-anchor="middle" class="tk">9</text>
<text transform="translate(632.30 750.90) scale(1 1.04)" text-anchor="middle" class="tk">10</text>
<text transform="translate(67.80 737.40) scale(1 1.04)" text-anchor="end" class="tk">0.00</text>
<text transform="translate(67.80 697.27) scale(1 1.04)" text-anchor="end" class="tk">0.02</text>
<text transform="translate(67.80 657.15) scale(1 1.04)" text-anchor="end" class="tk">0.04</text>
<text transform="translate(67.80 617.02) scale(1 1.04)" text-anchor="end" class="tk">0.06</text>
<text transform="translate(67.80 576.90) scale(1 1.04)" text-anchor="end" class="tk">0.08</text>
<text transform="translate(67.80 536.77) scale(1 1.04)" text-anchor="end" class="tk">0.10</text>
<text transform="translate(67.80 496.65) scale(1 1.04)" text-anchor="end" class="tk">0.12</text>
<text transform="translate(67.80 456.52) scale(1 1.04)" text-anchor="end" class="tk">0.14</text>
<text transform="translate(67.80 416.40) scale(1 1.04)" text-anchor="end" class="tk">0.16</text>
<text x="378.30" y="771.50" text-anchor="middle" class="lb">Days</text>
<text transform="translate(33.2 571.00) rotate(-90)" text-anchor="middle" class="lb" style="font-size:16.9px">MAE [mas]</text>
<text transform="translate(-0.40 408.20) scale(1.03 1)" class="pl">(b)</text>
<rect x="332.10" y="414.30" width="134.00" height="87.00" fill="#fff" stroke="#a8a8a8" stroke-width="1"/>
<path d="M334.60 423.60H353.60" stroke="#ff0000" stroke-width="2.1" fill="none"/>
<circle cx="344.10" cy="423.60" r="2.9" fill="#ff0000"/>
<text transform="translate(355.60 428.70) scale(1 1.0)" class="lg">ID 100</text>
<path d="M401.20 423.60H420.20" stroke="#ee0000" stroke-width="2.1" fill="none" stroke-dasharray="7.6 2.4 2.8 2.4"/>
<rect x="408.50" y="421.40" width="4.40" height="4.40" fill="#ee0000"/>
<text transform="translate(422.20 428.70) scale(1 1.0)" class="lg">ID 101</text>
<path d="M334.60 440.60H353.60" stroke="#e0161c" stroke-width="2.1" fill="none" stroke-dasharray="7.6 7.4"/>
<path d="M344.10 436.60L347.00 440.60L344.10 444.60L341.20 440.60Z" fill="#e0161c"/>
<text transform="translate(355.60 445.70) scale(1 1.0)" class="lg">ID 102</text>
<path d="M401.20 440.60H420.20" stroke="#b8232a" stroke-width="2.1" fill="none"/>
<path d="M408.10 440.60H413.30M410.70 438.00V443.20" stroke="#b8232a" stroke-width="1.7" fill="none"/>
<text transform="translate(422.20 445.70) scale(1 1.0)" class="lg">ID 104</text>
<path d="M334.60 457.60H353.60" stroke="#1e9b78" stroke-width="2.1" fill="none" stroke-dasharray="7.6 2.4 2.8 2.4"/>
<path d="M344.10 454.20L347.70 460.49L340.50 460.49Z" fill="#1e9b78"/>
<text transform="translate(355.60 462.70) scale(1 1.0)" class="lg">ID 117</text>
<path d="M401.20 457.60H420.20" stroke="#c4ae1c" stroke-width="2.1" fill="none" stroke-dasharray="1.9 1.9"/>
<circle cx="410.70" cy="457.60" r="2.0" fill="#c4ae1c"/>
<text transform="translate(422.20 462.70) scale(1 1.0)" class="lg">ID 127</text>
<path d="M334.60 474.60H353.60" stroke="#eca21a" stroke-width="2.1" fill="none" stroke-dasharray="7.6 7.4"/>
<circle cx="344.10" cy="474.60" r="2.0" fill="#eca21a"/>
<text transform="translate(355.60 479.70) scale(1 1.0)" class="lg">ID 134</text>
<path d="M401.20 474.60H420.20" stroke="#a5a37c" stroke-width="2.1" fill="none" stroke-dasharray="7.6 7.4"/>
<rect x="409.20" y="472.60" width="3.0" height="4.0" fill="#a5a37c"/>
<text transform="translate(422.20 479.70) scale(1 1.0)" class="lg">ID 154</text>
<path d="M334.60 491.60H353.60" stroke="#9aa98a" stroke-width="2.1" fill="none" stroke-dasharray="1.9 1.9"/>
<circle cx="344.10" cy="491.60" r="2.0" fill="#9aa98a"/>
<text transform="translate(355.60 496.70) scale(1 1.0)" class="lg">ID 155</text>
<path d="M401.20 491.60H420.20" stroke="#4cb4d4" stroke-width="2.1" fill="none" stroke-dasharray="7.6 2.4 2.8 2.4"/>
<path d="M408.50 489.40L412.90 493.80M408.50 493.80L412.90 489.40M408.20 491.60H413.20" stroke="#4cb4d4" stroke-width="1.6" fill="none"/>
<text transform="translate(422.20 496.70) scale(1 1.0)" class="lg">ID 200</text>
</svg>
</body></html>
